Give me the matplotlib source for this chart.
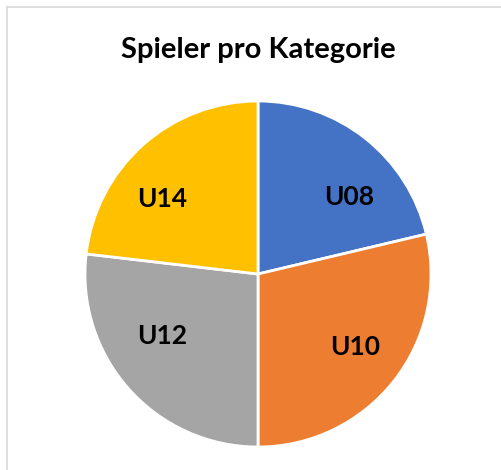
import numpy as np
import matplotlib.pyplot as plt
from matplotlib.lines import Line2D

# Spieler je Kategorie
kategorien = ['U08', 'U10', 'U12', 'U14']
spieler = [23, 31, 29, 25]
farben = ['#4472c4', '#ed7d31', '#a5a5a5', '#ffc000']

# where Excel put each label: angle clockwise from 12 o'clock, distance in radii
label_winkel = [50, 127, 237, 308]
label_abstand = [0.69, 0.70, 0.66, 0.70]

plt.rcParams['font.family'] = ['Lato', 'DejaVu Sans']

fig = plt.figure(figsize=(5.02, 4.70), dpi=100)
ax = fig.add_axes([85 / 502, 23 / 470, 346 / 502, 346 / 470])

wedges, texts = ax.pie(spieler, labels=kategorien, colors=farben, startangle=90,
                       counterclock=False,
                       wedgeprops=dict(edgecolor='white', linewidth=2),
                       textprops=dict(fontsize=19, fontweight='bold', color='black'))
for t, w, r in zip(texts, label_winkel, label_abstand):
    a = np.deg2rad(w)
    t.set_position((r * np.sin(a), r * np.cos(a)))
    t.set_ha('center')
    t.set_va('center')
ax.set_xlim(-1, 1)
ax.set_ylim(-1, 1)
ax.set_aspect('equal')

fig.text(258 / 502, 1 - 50 / 470, 'Spieler pro Kategorie', ha='center', va='center',
         fontsize=21, fontweight='bold')

# chart border (only top and left are visible in the crop)
fig.add_artist(Line2D([7 / 502, 1], [1 - 7 / 470, 1 - 7 / 470], color='#d9d9d9', lw=1.2))
fig.add_artist(Line2D([7 / 502, 7 / 502], [0, 1 - 7 / 470], color='#d9d9d9', lw=1.2))

fig.savefig('out.png', dpi=100)
